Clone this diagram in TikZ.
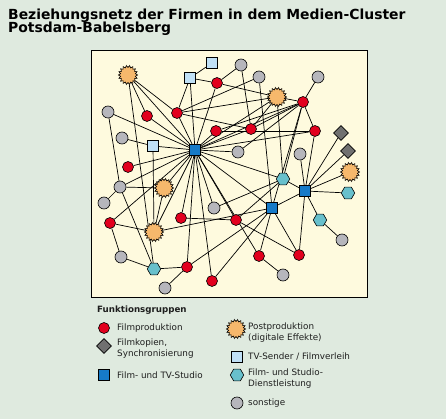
\documentclass[tikz,border=0pt]{standalone}
\usepackage{fontspec}
\setmainfont{DejaVu Sans}
\usepackage{xcolor}
\usepackage{tikz}
\usetikzlibrary{shapes.geometric,backgrounds}
\definecolor{bgmint}{RGB}{223,234,223}
\definecolor{panelcream}{RGB}{254,250,222}
\definecolor{prodred}{RGB}{226,0,30}
\definecolor{postorange}{RGB}{246,184,108}
\definecolor{kopiegray}{RGB}{112,112,112}
\definecolor{studioblue}{RGB}{22,122,200}
\definecolor{senderblue}{RGB}{192,224,246}
\definecolor{dienstteal}{RGB}{104,192,204}
\definecolor{sonstgray}{RGB}{182,182,188}
\definecolor{textdark}{RGB}{30,30,30}

\begin{document}
\begin{tikzpicture}[x=1pt, y=-1pt, font=\rmfamily,
    prod/.style={circle, draw=black, fill=prodred, line width=0.6pt, minimum size=11pt, inner sep=0pt},
    sonst/.style={circle, draw=black, fill=sonstgray, line width=0.6pt, minimum size=12pt, inner sep=0pt},
    post/.style={star, star points=18, star point ratio=0.78, draw=black, fill=postorange, line width=0.6pt, minimum size=15pt, inner sep=0pt},
    kopie/.style={diamond, draw=black, fill=kopiegray, line width=0.6pt, minimum size=15pt, inner sep=0pt},
    studio/.style={rectangle, draw=black, fill=studioblue, line width=0.6pt, minimum size=11.5pt, inner sep=0pt},
    sender/.style={rectangle, draw=black, fill=senderblue, line width=0.6pt, minimum size=11.5pt, inner sep=0pt},
    dienst/.style={regular polygon, regular polygon sides=6, draw=black, fill=dienstteal, line width=0.6pt, minimum size=13.5pt, inner sep=0pt},
    link/.style={black, line width=0.7pt},
    legtext/.style={anchor=west, font=\fontsize{8.8}{11}\selectfont, text=textdark, align=left, inner sep=0pt}]

% ==========================================
% Frame and background
% ==========================================
\useasboundingbox (0,0) rectangle (446,419);

% Title
\node[anchor=base west, inner sep=0pt, font=\bfseries\fontsize{13.9}{15}\selectfont] (titel1) at (8,19.5) {Beziehungsnetz der Firmen in dem Medien-Cluster};
\node[anchor=base west, inner sep=0pt, font=\bfseries\fontsize{13.9}{15}\selectfont] (titel2) at (8,32.5) {Potsdam-Babelsberg};

% ==========================================
% Network: firms
% ==========================================
% Film- und TV-Studio
\node[studio] (stud1) at (195,150) {};
\node[studio] (stud2) at (272,208) {};
\node[studio] (stud3) at (305,191) {};

% TV-Sender / Filmverleih
\node[sender] (send1) at (190,78) {};
\node[sender] (send2) at (212,63) {};
\node[sender] (send3) at (153,146) {};

% Postproduktion
\node[post] (post1) at (128,75) {};
\node[post] (post2) at (277,97) {};
\node[post] (post3) at (164,188) {};
\node[post] (post4) at (154,232) {};
\node[post] (post5) at (350,172) {};

% Filmkopien
\node[kopie] (kop1) at (341,133) {};
\node[kopie] (kop2) at (348,151) {};

% Dienstleistung
\node[dienst] (dien1) at (154,269) {};
\node[dienst] (dien2) at (283,179) {};
\node[dienst] (dien3) at (348,193) {};
\node[dienst] (dien4) at (320,220) {};

% Filmproduktion
\node[prod] (prod1) at (147,116) {};
\node[prod] (prod2) at (177,113) {};
\node[prod] (prod3) at (217,83) {};
\node[prod] (prod4) at (303,102) {};
\node[prod] (prod5) at (216,131) {};
\node[prod] (prod6) at (251,129) {};
\node[prod] (prod7) at (315,131) {};
\node[prod] (prod8) at (128,167) {};
\node[prod] (prod9) at (110,223) {};
\node[prod] (prod10) at (181,218) {};
\node[prod] (prod11) at (187,267) {};
\node[prod] (prod12) at (236,220) {};
\node[prod] (prod13) at (259,256) {};
\node[prod] (prod14) at (212,281) {};
\node[prod] (prod15) at (299,255) {};

% sonstige
\node[sonst] (sonst1) at (108,112) {};
\node[sonst] (sonst2) at (241,65) {};
\node[sonst] (sonst3) at (259,77) {};
\node[sonst] (sonst4) at (318,77) {};
\node[sonst] (sonst5) at (238,152) {};
\node[sonst] (sonst6) at (300,154) {};
\node[sonst] (sonst7) at (122,138) {};
\node[sonst] (sonst8) at (120,187) {};
\node[sonst] (sonst9) at (104,203) {};
\node[sonst] (sonst10) at (121,257) {};
\node[sonst] (sonst11) at (165,288) {};
\node[sonst] (sonst12) at (214,208) {};
\node[sonst] (sonst13) at (342,240) {};
\node[sonst] (sonst14) at (283,275) {};

% Relations (behind the firms)
\begin{scope}[on background layer]
    \fill[bgmint] (0,0) rectangle (446,419);
    \draw[black, line width=0.8pt, fill=panelcream] (91,50) rectangle (367,297);
    % hub: the big studio
    \foreach \f in {post1,prod1,prod2,send1,prod3,sonst1,send3,prod8,sonst8,post3,prod9,post4,prod10,prod11,prod14,prod13,prod12,sonst12,stud2,sonst5,prod5,prod6,post2,prod7,dien2,prod4}
        \draw[link] (stud1) -- (\f);
    % other links
    \foreach \a/\b in {post1/prod1, post1/prod2, post1/dien1, sonst1/sonst8, sonst7/send3,
        send1/send2, send1/prod3, send1/prod2, sonst2/prod3, sonst2/prod6, prod3/post2,
        sonst3/prod2, sonst3/stud2, prod2/post2, prod2/prod6, post2/prod4, post2/prod6, post2/dien2,
        prod4/sonst4, prod4/prod7, prod4/prod6, prod4/prod5, prod4/dien2, prod4/stud2, prod4/sonst5,
        prod7/stud3, prod7/prod5, kop1/stud3, kop2/stud3, sonst6/stud3, post5/stud3,
        dien3/stud3, dien4/stud3, prod15/stud3, stud2/stud3, dien2/stud3, dien4/sonst13,
        prod15/prod12, prod15/stud2, prod13/sonst14, prod13/stud2, prod14/stud2,
        prod11/stud2, prod11/dien1, prod11/sonst11, prod10/prod12, prod9/post4, prod9/sonst10,
        sonst10/dien1, dien1/sonst8, sonst8/post3, sonst8/sonst9, post3/post4, post4/stud2,
        prod12/dien2, sonst12/dien2, send3/post4}
        \draw[link] (\a) -- (\b);
\end{scope}

% ==========================================
% Legend
% ==========================================
\node[anchor=west, inner sep=0pt, text=textdark, font=\bfseries\fontsize{8.7}{10}\selectfont] (leghead) at (97,310) {Funktionsgruppen};

\node[prod] (legprod) at (104,328) {};
\node[legtext] (legprodtxt) at (117,328) {Filmproduktion};

\node[kopie] (legkop) at (104,346) {};
\node[legtext] (legkoptxt) at (117,349) {Filmkopien,\\Synchronisierung};

\node[studio] (legstud) at (104,375) {};
\node[legtext] (legstudtxt) at (117,375) {Film- und TV-Studio};

\node[post] (legpost) at (236,329) {};
\node[legtext] (legposttxt) at (248,333) {Postproduktion\\(digitale Effekte)};

\node[sender] (legsend) at (237,357) {};
\node[legtext] (legsendtxt) at (248,357) {TV-Sender / Filmverleih};

\node[dienst] (legdien) at (237,375) {};
\node[legtext] (legdientxt) at (248,379) {Film- und Studio-\\Dienstleistung};

\node[sonst] (legsonst) at (237,403) {};
\node[legtext] (legsonsttxt) at (248,403) {sonstige};

\end{tikzpicture}
\end{document}
